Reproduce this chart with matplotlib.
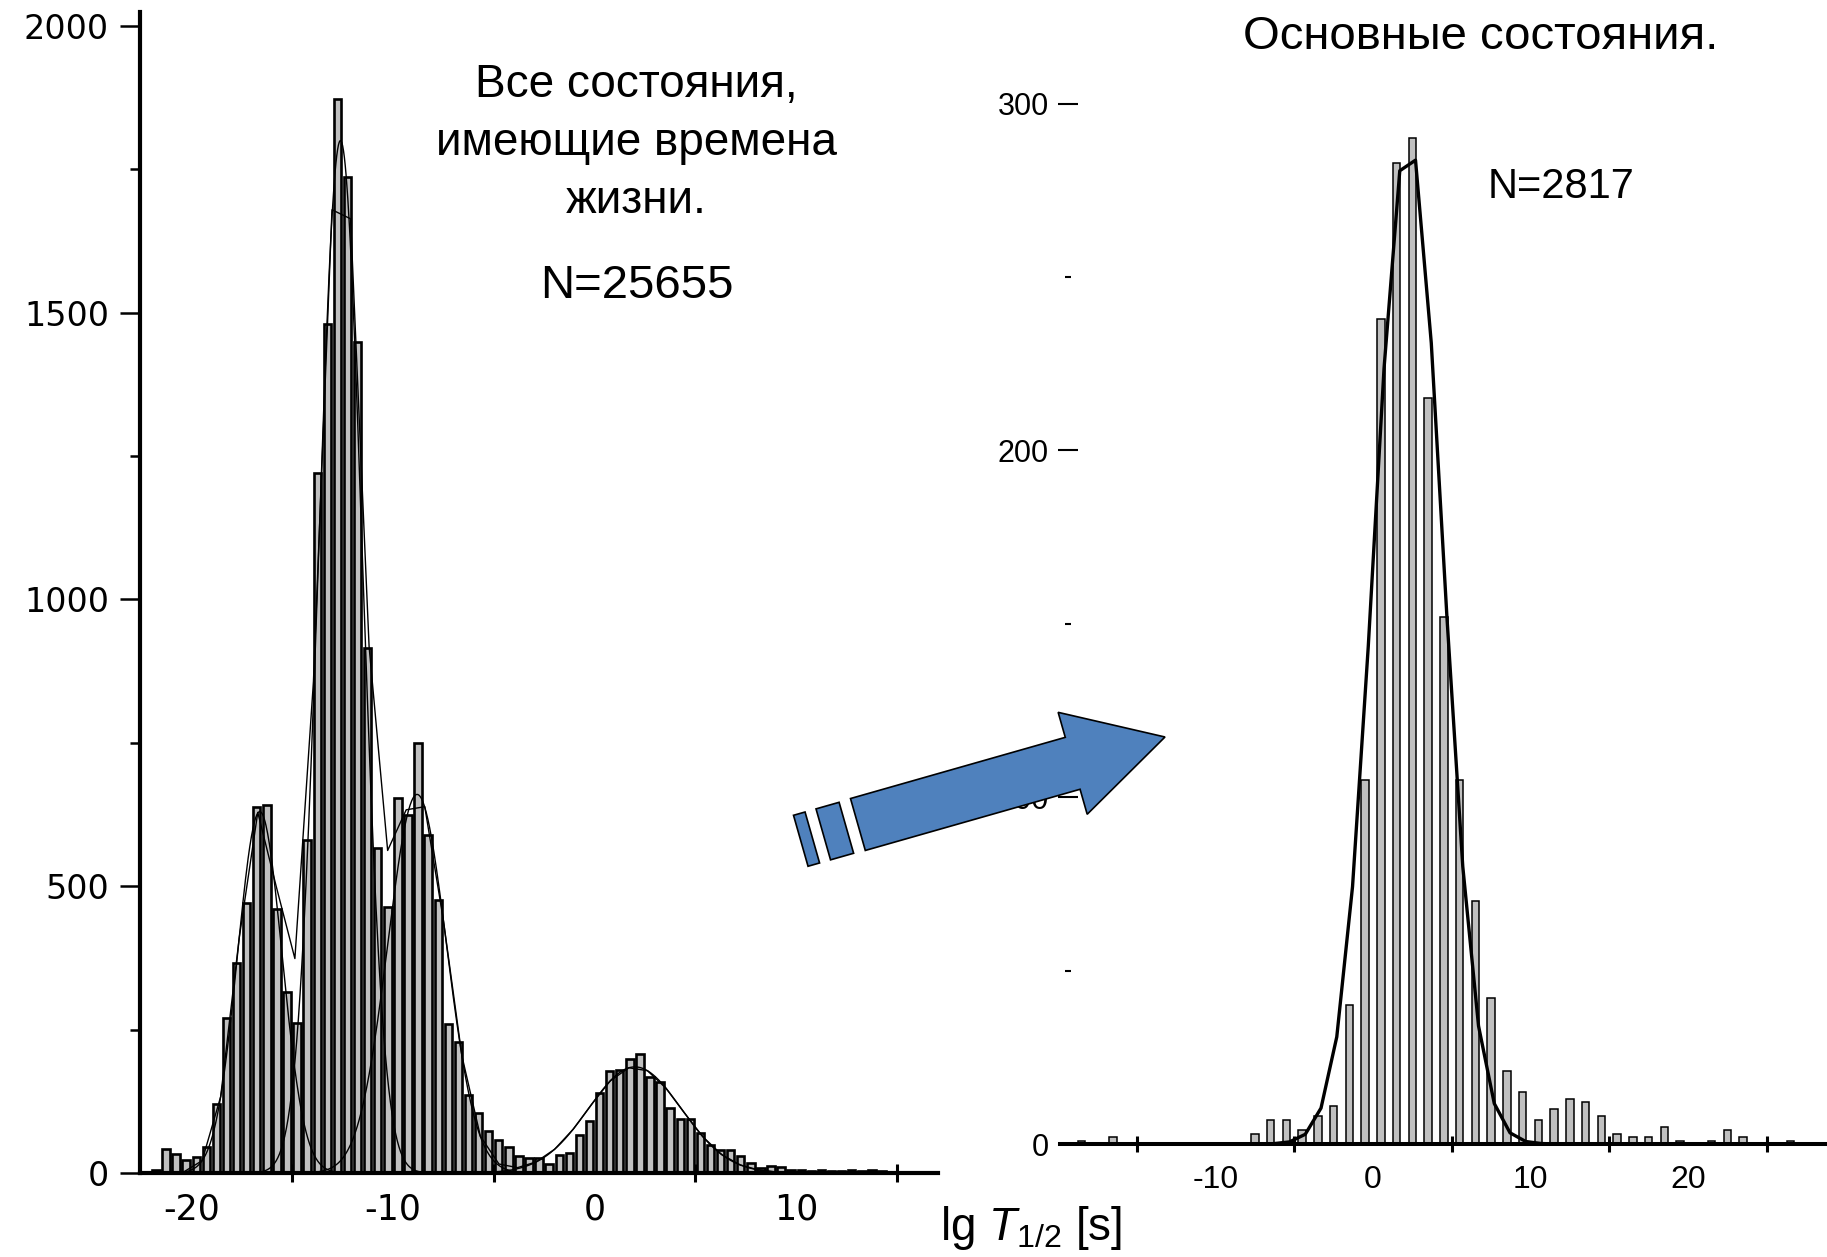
import numpy as np
import matplotlib.pyplot as plt
from matplotlib.patches import FancyArrow, Polygon

plt.rcParams['font.family'] = ['Liberation Sans', 'DejaVu Sans']
plt.rcParams['axes.unicode_minus'] = False
plt.rcParams['mathtext.fontset'] = 'custom'
plt.rcParams['mathtext.rm'] = 'Liberation Sans'
plt.rcParams['mathtext.it'] = 'Liberation Sans:italic'

# ---- data ----
# left: all states with lifetimes, bins of 0.5 in lg T1/2, first bin centred at -21.75
all_first_center = -21.75
all_bin = 0.5
all_counts = [5, 42, 33, 23, 28, 46, 121, 271, 366, 470,
              638, 641, 461, 316, 262, 581, 1220, 1480, 1873, 1737,
              1448, 915, 567, 464, 653, 624, 750, 589, 476, 259,
              229, 136, 105, 74, 58, 46, 30, 26, 26, 16,
              31, 35, 66, 91, 139, 177, 179, 198, 207, 168,
              159, 114, 94, 94, 70, 49, 40, 40, 30, 17,
              8, 12, 10, 6, 5, 3, 6, 3, 4, 6,
              3, 6, 3, 2]
# gaussian fit components of the left histogram
fit_centers = [-16.6, -12.6, -8.8, 2.0]
fit_amps = [630, 1800, 660, 185]
fit_sigmas = [1.1, 1.07, 1.45, 2.3]

# right: ground states, bins of 1, first bin centred at -18.5
gs_first_center = -18.5
gs_bin = 1.0
gs_counts = [1, 0, 2, 0, 0, 0, 0, 0, 0, 0,
             0, 3, 7, 7, 4, 8, 11, 40, 105, 238,
             283, 290, 215, 152, 105, 70, 42, 21, 15, 7,
             10, 13, 12, 8, 3, 2, 2, 5, 1, 0,
             1, 4, 2, 0, 0, 1]
gs_fit_center = 2.25
gs_fit_amp = 290
gs_fit_sigma = 2.15

left_yticks = [0, 500, 1000, 1500, 2000]
right_yticks = [0, 100, 200, 300]
x_labels_left = [-20, -10, 0, 10]
x_labels_right = [-10, 0, 10, 20]

all_x = all_first_center + all_bin * np.arange(len(all_counts))
gs_x = gs_first_center + gs_bin * np.arange(len(gs_counts))

W, H = 1827, 1257
fig = plt.figure(figsize=(W / 100, H / 100), dpi=100)


def box(x0, y0, x1, y1):
    return [x0 / W, 1 - y1 / H, (x1 - x0) / W, (y1 - y0) / H]


def gauss(x, c, a, s):
    return a * np.exp(-(x - c) ** 2 / (2 * s ** 2))


# ---- left panel ----
ax1 = fig.add_axes(box(140, 12, 938, 1173))
ax1.bar(all_x, all_counts, width=0.37, color='#c0c0c0', edgecolor='black', linewidth=1.9, zorder=2)

xs = np.linspace(-22, 16, 900)
for c, a, s in zip(fit_centers, fit_amps, fit_sigmas):
    g = gauss(xs, c, a, s)
    g[g < 1] = np.nan
    ax1.plot(xs, g, color='black', lw=1.0, zorder=3)
# summed fit, drawn on a coarse grid
xe = np.arange(-22.22, 16.0, 0.92)
env = sum(gauss(xe, c, a, s) for c, a, s in zip(fit_centers, fit_amps, fit_sigmas))
ax1.plot(xe, env, color='black', lw=1.0, zorder=3)

ax1.set_xlim(-22.54, 17.03)
ax1.set_ylim(0, 2024)
for sp in ['top', 'right']:
    ax1.spines[sp].set_visible(False)
for sp in ['left', 'bottom']:
    ax1.spines[sp].set_linewidth(3.0)
ax1.set_yticks(left_yticks)
ax1.set_yticks([250, 750, 1250, 1750], minor=True)
ax1.set_xticks(x_labels_left)
ax1.set_xticks([-15, -5, 5, 15], minor=True)
ax1.tick_params(axis='y', which='major', direction='out', length=14.4, width=1.8, pad=8,
                labelsize=24, labelfontfamily='DejaVu Sans')
ax1.tick_params(axis='y', which='minor', direction='out', length=7.2, width=1.8)
ax1.tick_params(axis='x', which='major', length=0, pad=14, labelsize=25, labelfontfamily='DejaVu Sans')
ax1.tick_params(axis='x', which='minor', direction='inout', length=13, width=2.2)

# ---- right panel ----
ax2 = fig.add_axes(box(1060, 60, 1827, 1144))
ax2.bar(gs_x, gs_counts, width=0.47, color='#c0c0c0', edgecolor='black', linewidth=1.1, zorder=2)
xr = np.arange(-19.3, 28.8, 1.0)
ax2.plot(xr, gauss(xr, gs_fit_center, gs_fit_amp, gs_fit_sigma), color='black', lw=2.4, zorder=3)

ax2.set_xlim((1060 - 1373) / 15.75, (1827 - 1373) / 15.75)
ax2.set_ylim(0, 312.6)
for sp in ['top', 'right']:
    ax2.spines[sp].set_visible(False)
ax2.spines['left'].set_position(('outward', -5.4))
ax2.spines['left'].set_color('none')
ax2.spines['bottom'].set_linewidth(2.9)
ax2.set_yticks(right_yticks)
ax2.set_yticks([50, 150, 250], minor=True)
ax2.set_xticks(x_labels_right)
ax2.set_xticks([-15, -5, 5, 15, 25], minor=True)
ax2.tick_params(axis='y', which='major', direction='inout', length=13.7, width=1.5, pad=6.5, labelsize=22)
ax2.tick_params(axis='y', which='minor', direction='inout', length=4.3, width=1.5)
ax2.tick_params(axis='x', which='major', length=0, pad=15, labelsize=23)
ax2.tick_params(axis='x', which='minor', direction='inout', length=11, width=2.2)

# ---- texts ----
fig.text(636 / W, 1 - 143 / H, 'Все состояния,\nимеющие времена\nжизни.', fontsize=33,
         ha='center', va='center', linespacing=1.4)
fig.text(637 / W, 1 - 286 / H, 'N=25655', fontsize=34, ha='center', va='center')
fig.text(1481 / W, 1 - 37 / H, 'Основные состояния.', fontsize=34, ha='center', va='center')
fig.text(1561 / W, 1 - 187 / H, 'N=2817', fontsize=30, ha='center', va='center')
fig.text(1031 / W, 1 - 1228 / H, r'lg $T_{1/2}$ [s]', fontsize=33, ha='center', va='center')

# ---- blue arrow overlay (pixel coordinates) ----
ov = fig.add_axes([0, 0, 1, 1])
ov.set_xlim(0, W)
ov.set_ylim(H, 0)
ov.axis('off')
ov.patch.set_visible(False)
ov.set_zorder(10)

start = np.array([857.9, 824.5])
tip = np.array([1165.0, 737.0])
d = tip - start
u = d / np.hypot(*d)
n = np.array([-u[1], u[0]])
ov.add_patch(FancyArrow(start[0], start[1], d[0], d[1], width=54, head_width=106, head_length=96,
                        length_includes_head=True, fc='#4F81BD', ec='black', lw=1.2))
for t, ln in [(-24, 24), (-53.4, 12)]:
    c = start + u * t
    pts = [c - u * ln / 2 - n * 26.5, c + u * ln / 2 - n * 26.5,
           c + u * ln / 2 + n * 26.5, c - u * ln / 2 + n * 26.5]
    ov.add_patch(Polygon(pts, closed=True, fc='#4F81BD', ec='black', lw=1.2))

fig.savefig('out.png', dpi=100)
